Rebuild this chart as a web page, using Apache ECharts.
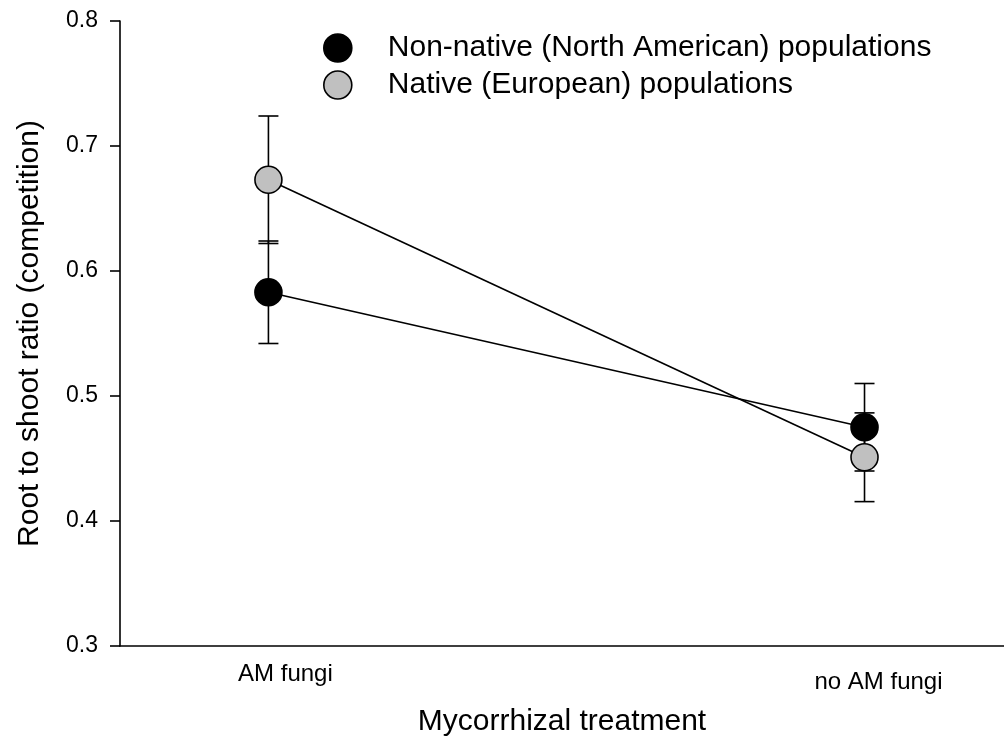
<!DOCTYPE html>
<html>
<head>
<meta charset="utf-8">
<script src="https://cdn.jsdelivr.net/npm/echarts@6/dist/echarts.min.js"></script>
<style>html,body{margin:0;padding:0;background:#fff;}#main{width:1004px;height:748px;}</style>
</head>
<body>
<div id="main"></div>
<script>
const categories = ['AM fungi', 'no AM fungi'];
const xPositions = [1, 2];
const seriesNames = ['Non-native (North American) populations', 'Native (European) populations'];
const nonNativeMean = [0.583, 0.475];
const nonNativeErr = [0.041, 0.035];
const nativeMean = [0.673, 0.451];
const nativeErr = [0.051, 0.0355];
const yTicks = [0.3, 0.4, 0.5, 0.6, 0.7, 0.8];

const FONT = '"Liberation Sans", Arial, sans-serif';

function errData(means, errs) {
  return xPositions.map((x, i) => [x, means[i] - errs[i], means[i] + errs[i]]);
}
function errSeries(means, errs) {
  return {
    type: 'custom',
    silent: true,
    z: 1,
    data: errData(means, errs),
    renderItem: function (params, api) {
      const x = api.value(0);
      const lo = api.coord([x, api.value(1)]);
      const hi = api.coord([x, api.value(2)]);
      const hw = 10;
      const st = { stroke: '#000', lineWidth: 1.6 };
      return {
        type: 'group',
        children: [
          { type: 'line', shape: { x1: lo[0], y1: lo[1], x2: hi[0], y2: hi[1] }, style: st },
          { type: 'line', shape: { x1: lo[0] - hw, y1: lo[1], x2: lo[0] + hw, y2: lo[1] }, style: st },
          { type: 'line', shape: { x1: hi[0] - hw, y1: hi[1], x2: hi[0] + hw, y2: hi[1] }, style: st }
        ]
      };
    }
  };
}
function lineSeries(name, means, color) {
  return {
    name: name,
    type: 'line',
    z: 3,
    data: xPositions.map((x, i) => [x, means[i]]),
    symbol: 'circle',
    symbolSize: 27,
    lineStyle: { color: '#000', width: 1.6 },
    itemStyle: { color: color, borderColor: '#000', borderWidth: 1.6 },
    emphasis: { disabled: true }
  };
}

const chart = echarts.init(document.getElementById('main'));
chart.setOption({
  animation: false,
  backgroundColor: '#fff',
  grid: { left: 120, right: 0, top: 21, bottom: 102 },
  legend: {
    left: 318, top: 28, orient: 'vertical',
    itemWidth: 90, itemHeight: 28, itemGap: 7,
    textStyle: { fontFamily: FONT, fontSize: 30, color: '#000' },
    data: [
      { name: seriesNames[0], icon: 'circle', itemStyle: { color: '#000', borderColor: '#000', borderWidth: 1.6 } },
      { name: seriesNames[1], icon: 'circle', itemStyle: { color: '#c0c0c0', borderColor: '#000', borderWidth: 1.6 } }
    ]
  },
  xAxis: {
    type: 'value', min: 0.751, max: 2.234,
    name: 'Mycorrhizal treatment', nameLocation: 'middle', nameGap: 61,
    nameTextStyle: { fontFamily: FONT, fontSize: 30, color: '#000' },
    axisLine: { show: true, lineStyle: { color: '#000', width: 1.6 } },
    axisTick: { show: false },
    splitLine: { show: false },
    axisLabel: {
      customValues: xPositions,
      fontFamily: FONT, fontSize: 24, color: '#000', margin: 16,
      formatter: function (v) {
        const i = xPositions.indexOf(v);
        return i === 0 ? '{a|' + categories[0] + '}' : '{b|' + categories[1] + '}';
      },
      rich: {
        a: { fontFamily: FONT, fontSize: 24, color: '#000', padding: [0, 0, 0, 34] },
        b: { fontFamily: FONT, fontSize: 24, color: '#000', padding: [8, 0, 0, 28] }
      }
    }
  },
  yAxis: {
    type: 'value', min: 0.3, max: 0.8, interval: 0.1,
    name: 'Root to shoot ratio (competition)', nameLocation: 'middle', nameGap: 75,
    nameTextStyle: { fontFamily: FONT, fontSize: 30, color: '#000' },
    axisLine: { show: true, lineStyle: { color: '#000', width: 1.6 } },
    axisTick: { show: true, inside: false, length: 10, lineStyle: { color: '#000', width: 1.6 } },
    splitLine: { show: false },
    axisLabel: {
      fontFamily: FONT, fontSize: 23, color: '#000', margin: 22,
      formatter: function (v) { return v.toFixed(1); }
    }
  },
  series: [
    errSeries(nonNativeMean, nonNativeErr),
    errSeries(nativeMean, nativeErr),
    lineSeries(seriesNames[0], nonNativeMean, '#000'),
    lineSeries(seriesNames[1], nativeMean, '#c0c0c0')
  ]
});
</script>
</body>
</html>
